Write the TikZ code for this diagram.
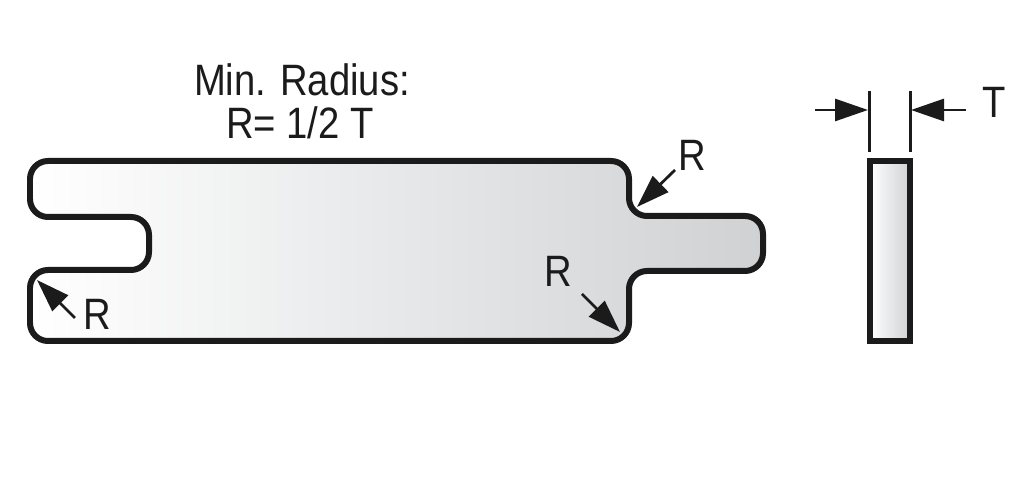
\documentclass[tikz,border=0pt]{standalone}
\usepackage{fontspec}
\setmainfont{Liberation Sans}
\usetikzlibrary{arrows.meta}
\definecolor{PartGray}{RGB}{207,209,211}
\definecolor{LineBlack}{RGB}{28,27,28}

\begin{document}
\begin{tikzpicture}[x=0.02cm,y=-0.02cm]
	\tikzset{
		part/.style={draw=LineBlack, line width=0.12cm, left color=white, right color=PartGray},
		lead/.style={draw=LineBlack, line width=0.055cm, -{Triangle[length=0.66cm,width=0.44cm]}},
		ext/.style={draw=LineBlack, line width=0.06cm},
		lab/.style={font=\fontsize{25}{28}\selectfont, text=LineBlack, inner sep=0pt, xscale=0.87}
	}
	\useasboundingbox (0,0) rectangle (1022,492);
	% plate with slot and tang
	\draw[part, rounded corners=0.36cm] (30,161) -- (629,161) -- (629,216) -- (763,216) -- (763,271)
		-- (629,271) -- (629,341) -- (30,341) -- (30,270) -- (149,270) -- (149,217) -- (30,217) -- cycle;
	% edge view
	\draw[part] (870,161) rectangle (910,341);
	\node[lab] (title1) at (302,80) {Min. Radius:};
	\node[lab] (title2) at (300,123) {R= 1/2 T};
	\node[lab] (r1) at (97,314) {R};
	\node[lab] (r2) at (692,155) {R};
	\node[lab] (r3) at (558,271) {R};
	\node[lab] (t) at (994,102) {T};
	\coordinate (a1) at (75,318);
	\coordinate (b1) at (37,280);
	\coordinate (a2) at (675,170);
	\coordinate (b2) at (637,207);
	\coordinate (a3) at (582,294);
	\coordinate (b3) at (620,332);
	\coordinate (a4) at (815,110);
	\coordinate (b4) at (868,110);
	\coordinate (a5) at (966,110);
	\coordinate (b5) at (911,110);
	\coordinate (e1) at (869,91);
	\coordinate (f1) at (869,152);
	\coordinate (e2) at (910,91);
	\coordinate (f2) at (910,152);
	\draw[lead] (a1)--(b1);
	\draw[lead] (a2)--(b2);
	\draw[lead] (a3)--(b3);
	\draw[lead] (a4)--(b4);
	\draw[lead] (a5)--(b5);
	\draw[ext] (e1)--(f1);
	\draw[ext] (e2)--(f2);
\end{tikzpicture}
\end{document}
